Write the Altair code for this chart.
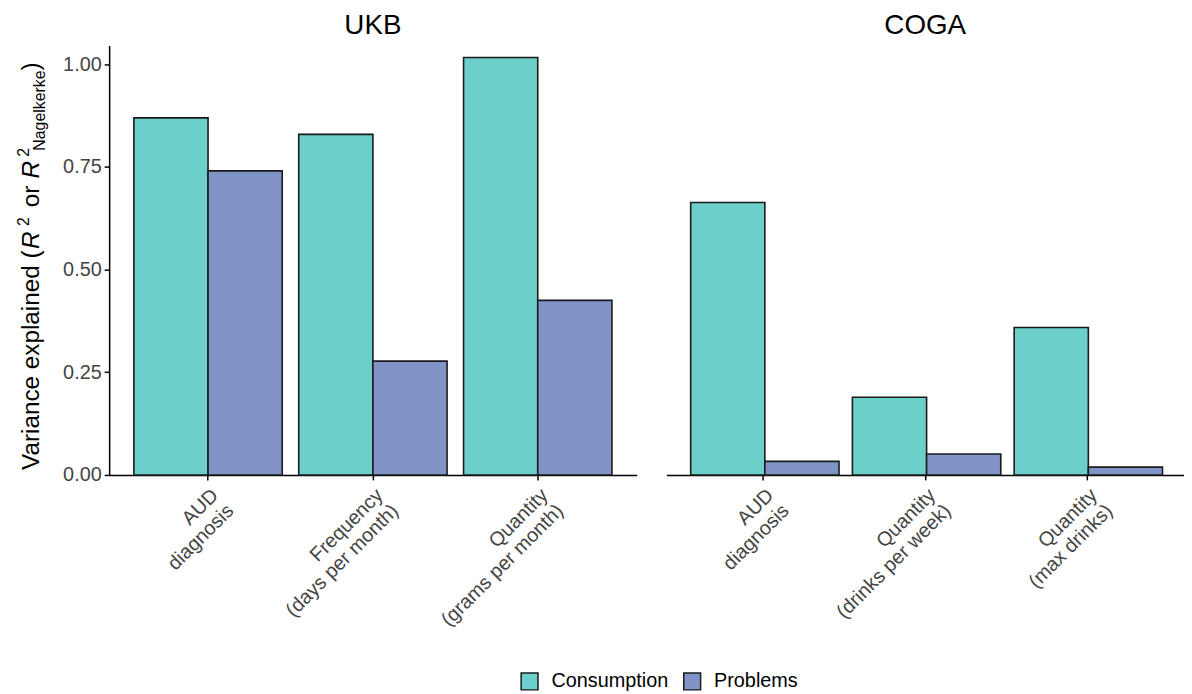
import altair as alt
import pandas as pd

# ---- data ----
groups = ["Consumption", "Problems"]
colors = ["#6DCFC9", "#8194C7"]

ukb_categories = ["AUD|diagnosis", "Frequency|(days per month)", "Quantity|(grams per month)"]
ukb_consumption = [0.869, 0.829, 1.016]
ukb_problems = [0.740, 0.277, 0.425]

coga_categories = ["AUD|diagnosis", "Quantity|(drinks per week)", "Quantity|(max drinks)"]
coga_consumption = [0.663, 0.189, 0.359]
coga_problems = [0.033, 0.051, 0.019]

y_ticks = [0.0, 0.25, 0.5, 0.75, 1.0]
panel_names = ["UKB", "COGA"]

FONT = "Liberation Sans"


def make_df(cats, cons, prob):
    rows = []
    for c, v in zip(cats, cons):
        rows.append({"category": c, "group": groups[0], "value": v})
    for c, v in zip(cats, prob):
        rows.append({"category": c, "group": groups[1], "value": v})
    return pd.DataFrame(rows)


ukb_df = make_df(ukb_categories, ukb_consumption, ukb_problems)
coga_df = make_df(coga_categories, coga_consumption, coga_problems)

YMAX = 1.045
HEIGHT = 433
W_LEFT = 532
W_RIGHT = 522

color_enc = alt.Color(
    "group:N",
    scale=alt.Scale(domain=groups, range=colors),
    legend=alt.Legend(
        orient="none", legendX=414, legendY=631, direction="horizontal", title=None,
        symbolType="square", symbolSize=289, symbolStrokeColor="#1a1a1a",
        symbolStrokeWidth=1.5, symbolOpacity=1, labelFontSize=20, labelFont=FONT,
        labelColor="black", columnPadding=12, labelOffset=12,
    ),
)


def bars(df, cats, width, show_y):
    yaxis = alt.Axis(values=y_ticks, format=".2f", title=None, grid=False) if show_y else None
    return alt.Chart(df).mark_bar(stroke="#1a1a1a", strokeWidth=1.6).encode(
        x=alt.X("category:N", sort=cats,
                scale=alt.Scale(paddingInner=0.1, paddingOuter=0.15),
                axis=alt.Axis(title=None, labelExpr="split(datum.label, '|')")),
        xOffset=alt.XOffset("group:N", sort=groups,
                            scale=alt.Scale(paddingInner=0, paddingOuter=0)),
        y=alt.Y("value:Q", scale=alt.Scale(domain=[0, YMAX], nice=False, zero=True), axis=yaxis),
        color=color_enc,
    ).properties(width=width, height=HEIGHT)


def text_piece(txt, fs, style, px, py, angle=0, align="left"):
    kw = dict(text=txt, align=align, baseline="alphabetic", fontSize=fs,
              fontStyle=style, font=FONT, color="black")
    if angle:
        kw["angle"] = angle
    return alt.Chart(alt.Data(values=[{"k": 0}])).mark_text(**kw).encode(
        x=alt.value(px), y=alt.value(py))


# y-axis title built from pieces (superscript / subscript)
title_pieces = [
    ("Variance explained (", 24.5, "normal", -70.5, 428),
    ("R", 24.5, "italic", -70.5, 205),
    ("2", 16, "normal", -81, 182),
    ("or", 24.5, "normal", -70.5, 163),
    ("R", 24.5, "italic", -70.5, 134),
    ("2", 16, "normal", -81, 112),
    ("Nagelkerke", 16, "normal", -64.5, 106),
    (")", 24.5, "normal", -70.5, 25),
]
title_layers = [text_piece(t, fs, st, px, py, angle=270) for t, fs, st, px, py in title_pieces]

left = alt.layer(
    bars(ukb_df, ukb_categories, W_LEFT, True),
    text_piece(panel_names[0], 28, "normal", W_LEFT / 2, -12, align="center"),
    *title_layers,
)
right = alt.layer(
    bars(coga_df, coga_categories, W_RIGHT, False),
    text_piece(panel_names[1], 28, "normal", W_RIGHT / 2, -12, align="center"),
)

chart = alt.hconcat(left, right, spacing=30).resolve_scale(
    x="independent", color="shared"
).configure_view(stroke=None).configure_axis(
    domainColor="black", domainWidth=1.5, tickColor="black", tickWidth=1.5, tickSize=5,
    labelFont=FONT, labelFontSize=20, labelColor="#444444", grid=False,
).configure_axisY(
    labelPadding=3,
).configure_axisX(
    labelAngle=315, labelAlign="right", labelBaseline="top", labelPadding=5,
    labelLineHeight=22, labelOverlap=False, labelLimit=400,
).properties(
    padding={"left": 8, "top": 1, "right": 0, "bottom": 0}
)

chart.save("out.html", embed_options={"renderer": "svg", "actions": False})
